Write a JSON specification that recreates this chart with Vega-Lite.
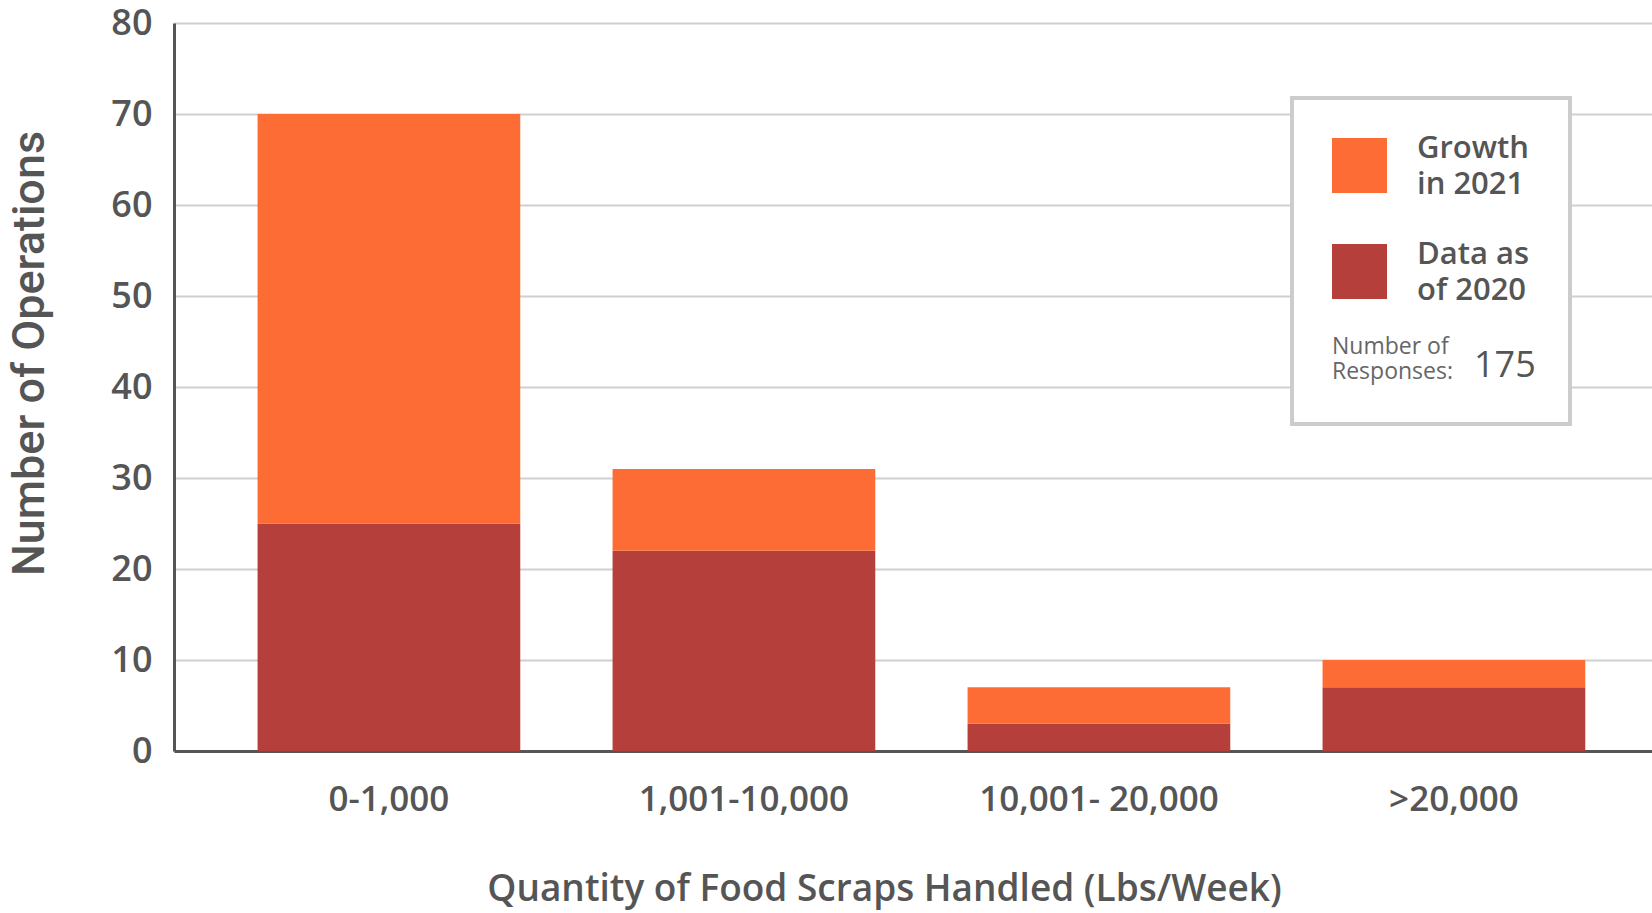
{
  "$schema": "https://vega.github.io/schema/vega-lite/v6.json",
  "width": 1478,
  "height": 728,
  "autosize": {"type": "none"},
  "padding": {"left": 174, "top": 23, "right": 0, "bottom": 162},
  "background": "white",
  "datasets": {
    "bars": [
      {"range": "0-1,000", "series": "Data as of 2020", "operations": 25},
      {"range": "0-1,000", "series": "Growth in 2021", "operations": 45},
      {"range": "1,001-10,000", "series": "Data as of 2020", "operations": 22},
      {"range": "1,001-10,000", "series": "Growth in 2021", "operations": 9},
      {"range": "10,001- 20,000", "series": "Data as of 2020", "operations": 3},
      {"range": "10,001- 20,000", "series": "Growth in 2021", "operations": 4},
      {"range": ">20,000", "series": "Data as of 2020", "operations": 7},
      {"range": ">20,000", "series": "Growth in 2021", "operations": 3}
    ],
    "responses": [{"responses": 175}]
  },
  "config": {
    "view": {"stroke": null},
    "font": "Open Sans",
    "legend": {"strokeWidth": 4}
  },
  "layer": [
    {
      "data": {"name": "bars"},
      "mark": {"type": "bar"},
      "encoding": {
        "x": {
          "field": "range",
          "type": "nominal",
          "sort": ["0-1,000", "1,001-10,000", "10,001- 20,000", ">20,000"],
          "scale": {"paddingInner": 0.26, "paddingOuter": 0.2117, "align": 0.556},
          "axis": {
            "title": "Quantity of Food Scraps Handled (Lbs/Week)",
            "titleFont": "Open Sans",
            "titleFontSize": 37,
            "titleFontWeight": 600,
            "titleColor": "#555555",
            "titleX": 710,
            "titleY": 138,
            "titleBaseline": "middle",
            "labelAngle": 0,
            "labelFont": "Open Sans",
            "labelFontSize": 35,
            "labelFontWeight": 600,
            "labelColor": "#555555",
            "labelPadding": 31,
            "labelLimit": 500,
            "ticks": false,
            "domainColor": "#555555",
            "domainWidth": 3,
            "grid": false
          }
        },
        "y": {
          "field": "operations",
          "type": "quantitative",
          "stack": "zero",
          "scale": {"domain": [0, 80], "nice": false},
          "axis": {
            "title": "Number of Operations",
            "titleFont": "Roboto",
            "titleFontSize": 45,
            "titleFontWeight": 500,
            "titleColor": "#555555",
            "titleX": -122,
            "titleY": 330,
            "values": [0, 10, 20, 30, 40, 50, 60, 70, 80],
            "labelFont": "Open Sans",
            "labelFontSize": 36,
            "labelFontWeight": 600,
            "labelColor": "#555555",
            "labelPadding": 22,
            "ticks": false,
            "domainColor": "#555555",
            "domainWidth": 3,
            "grid": true,
            "gridColor": "#d0d0d0",
            "gridWidth": 2
          }
        },
        "color": {
          "field": "series",
          "type": "nominal",
          "scale": {
            "domain": ["Growth in 2021", "Data as of 2020"],
            "range": ["#FE6C35", "#B53F3A"]
          },
          "legend": {
            "orient": "none",
            "legendX": 1118,
            "legendY": 75,
            "title": ["Number of", "Responses:"],
            "titleOrient": "bottom",
            "titleAnchor": "start",
            "titleFont": "Open Sans",
            "titleFontSize": 23,
            "titleFontWeight": 400,
            "titleColor": "#666666",
            "titlePadding": 30,
            "symbolType": "square",
            "symbolSize": 3025,
            "symbolStrokeWidth": 0,
            "symbolOpacity": 1,
            "labelFont": "Open Sans",
            "labelFontSize": 31,
            "labelFontWeight": 600,
            "labelColor": "#555555",
            "labelOffset": 30,
            "labelLimit": 300,
            "labelExpr": "datum.label == 'Growth in 2021' ? ['Growth', 'in 2021'] : ['Data as', 'of 2020']",
            "rowPadding": 38,
            "padding": 40,
            "strokeColor": "#cccccc",
            "fillColor": "white",
            "encode": {
              "labels": {"update": {"lineHeight": {"value": 36}, "dy": {"value": -17}}}
            }
          }
        },
        "order": {"field": "series", "sort": "ascending"}
      }
    },
    {
      "data": {"name": "responses"},
      "mark": {"type": "text", "text": "", "font": "Open Sans", "fontSize": 34},
      "encoding": {
        "opacity": {
          "field": "responses",
          "type": "ordinal",
          "legend": {
            "orient": "none",
            "legendX": 1264,
            "legendY": 325,
            "title": null,
            "padding": 0,
            "symbolSize": 0,
            "symbolOpacity": 0,
            "symbolStrokeWidth": 0,
            "labelOffset": 0,
            "labelFont": "Open Sans",
            "labelFontSize": 36,
            "labelFontWeight": 500,
            "labelColor": "#555555"
          }
        }
      }
    }
  ]
}
